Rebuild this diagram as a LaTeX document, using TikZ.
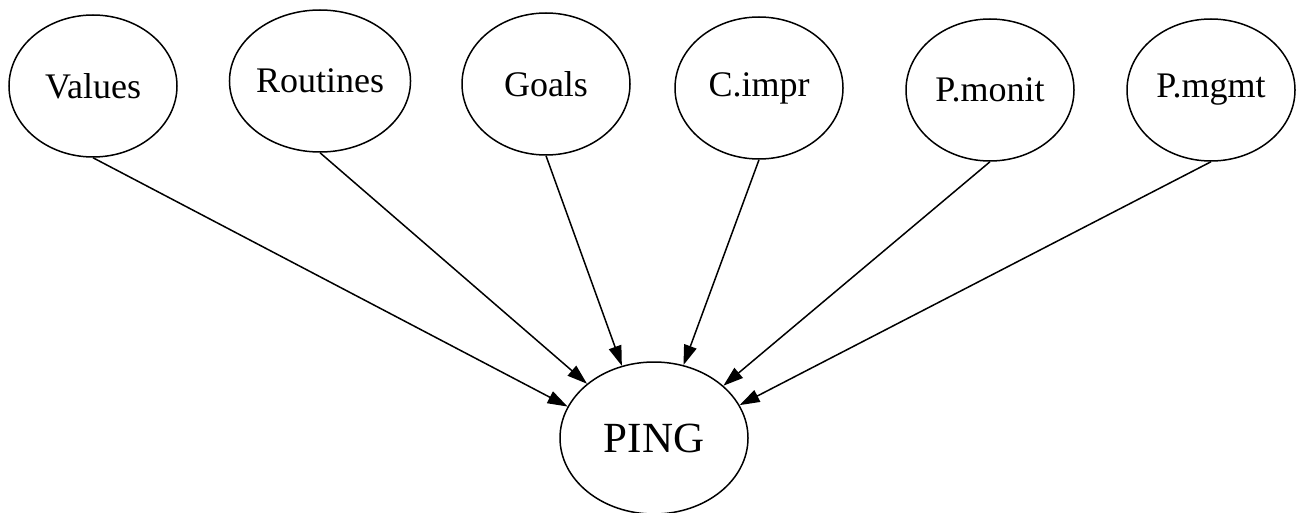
\documentclass[tikz,border=0pt]{standalone}
\usepackage{fontspec}
\setmainfont{Liberation Serif}
\usetikzlibrary{shapes.geometric,arrows.meta}

\begin{document}
\begin{tikzpicture}[x=1pt, y=-1pt, line width=1.5pt,
  factor/.style={ellipse, draw, minimum width=168pt, minimum height=142pt, inner sep=0pt, font=\fontsize{36}{40}\selectfont},
  outcome/.style={ellipse, draw, minimum width=188pt, minimum height=152pt, inner sep=0pt, font=\fontsize{43}{48}\selectfont},
  link/.style={-{Triangle[length=20pt, width=13pt]}}]
\useasboundingbox (0,0) rectangle (1296,513);
\node (values) [factor] at (93,86) {Values};
\node (routines) [factor] at (320,81) {Routines};
\node (goals) [factor] at (546,84) {Goals};
\node (cimpr) [factor] at (759,88) {C.impr};
\node (pmonit) [factor] at (990,90) {P.monit};
\node (pmgmt) [factor] at (1211,90) {P.mgmt};
\node (ping) [outcome] at (654,438) {PING};
\draw[link] (values.south) -- (ping.160);
\draw[link] (routines.south) -- (ping.141);
\draw[link] (goals.south) -- (ping.114);
\draw[link] (cimpr.south) -- (ping.68);
\draw[link] (pmonit.south) -- (ping.37);
\draw[link] (pmgmt.south) -- (ping.21);
\end{tikzpicture}
\end{document}
